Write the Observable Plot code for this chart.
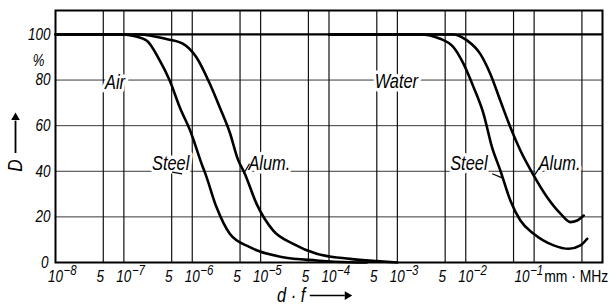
<!DOCTYPE html>
<html><head><meta charset="utf-8">
<script src="https://cdn.jsdelivr.net/npm/d3@7"></script>
<script src="https://cdn.jsdelivr.net/npm/@observablehq/plot@0.6"></script>
<style>body{margin:0;background:#fff;} svg{display:block;}</style>
</head><body><div id="chart"></div>
<script>
// ---- data (d·f in mm·MHz, D in %) ----
const airSteelX = [1e-8, 1e-7, 1.12e-7, 2.13e-7, 3.34e-7, 4.68e-7, 6.56e-7, 9.31e-7, 1.43e-6, 1.54e-6, 2.26e-6, 3.54e-6, 6.95e-6, 2.12e-5, 6.61e-5, 2.03e-4, 3.55e-4];
const airSteelD = [100, 100, 99.8, 97.4, 88.6, 79.8, 68.1, 57.9, 41.8, 39.3, 24.3, 12.6, 6.7, 2.3, 0.9, 0.1, 0];
const airAlumX = [1e-8, 1.7e-7, 4.19e-7, 7.26e-7, 1.15e-6, 1.8e-6, 2.53e-6, 3.54e-6, 4.68e-6, 5.75e-6, 8.73e-6, 1.53e-5, 3.0e-5, 6.61e-5, 2.03e-4, 5.0e-4, 1e-3];
const airAlumD = [100, 100, 98, 96, 90, 78.5, 68, 57, 45, 39.6, 25.7, 14, 8.2, 3.8, 1.6, 0.6, 0];
const waterSteelX = [1e-4, 2.15e-3, 4.23e-3, 6.62e-3, 9.29e-3, 1.3e-2, 1.82e-2, 2.42e-2, 3.2e-2, 4.49e-2, 6.3e-2, 9.84e-2, 1.93e-1, 3.21e-1, 4.76e-1, 5.97e-1];
const waterSteelD = [100, 100, 98.1, 94.4, 87.1, 76.9, 65.2, 50.6, 40.4, 27.2, 18.4, 12.6, 7.5, 6.0, 7.5, 10.4];
const waterAlumX = [1e-4, 6.56e-3, 1.04e-2, 1.63e-2, 2.29e-2, 3.2e-2, 4.49e-2, 6.3e-2, 9.84e-2, 1.55e-1, 2.43e-1, 3.4e-1, 4.26e-1, 5.32e-1];
const waterAlumD = [100, 100, 97.4, 91.5, 82.7, 71, 59.3, 49.1, 38.2, 28.6, 21.4, 17.7, 18.4, 20.6];

const xPowerTicks = [1e-8, 1e-7, 1e-6, 1e-5, 1e-4, 1e-3, 1e-2];
const xPowerExps = ["−8", "−7", "−6", "−5", "−4", "−3", "−2"];
const xLastTick = [1e-1];
const xLastExp = ["−1"];
const xFiveTicks = [5e-8, 5e-7, 5e-6, 5e-5, 5e-4, 5e-3];
const xGrid = [5e-8, 1e-7, 5e-7, 1e-6, 5e-6, 1e-5, 5e-5, 1e-4, 5e-4, 1e-3, 5e-3, 1e-2, 5e-2, 1e-1, 5e-1];
const yTicks = [20, 40, 60, 80, 100];
const yZero = [0];
const yGrid = [20, 40, 60, 80];
const unitLabel = "mm · MHz";

const curveLabels = [
  {t: "Air", x: 7.43e-8, d: 78.7},
  {t: "Water", x: 9.66e-4, d: 79.4},
  {t: "Steel", x: 4.83e-7, d: 43.2},
  {t: "Alum.", x: 1.34e-5, d: 43.4},
  {t: "Steel", x: 1.11e-2, d: 43.2},
  {t: "Alum.", x: 2.36e-1, d: 43.2}
];
const leaders = [
  {x1: 5.08e-7, y1: 39.6, x2: 7.11e-7, y2: 38.9},
  {x1: 6.87e-6, y1: 43.3, x2: 5.62e-6, y2: 38.9},
  {x1: 2.44e-2, y1: 38.9, x2: 3.41e-2, y2: 37.1},
  {x1: 1.21e-1, y1: 41.8, x2: 1.01e-1, y2: 38.2}
];

function series(xs, ds, name) { return xs.map((x, i) => ({x, d: ds[i], name})); }
const curves = [
  ...series(airSteelX, airSteelD, "air-steel"),
  ...series(airAlumX, airAlumD, "air-alum"),
  ...series(waterSteelX, waterSteelD, "water-steel"),
  ...series(waterAlumX, waterAlumD, "water-alum")
];

const FONT = '"Liberation Sans",Arial,sans-serif';
const T = {fill: "black", fontStyle: "italic"};

const chart = Plot.plot({
  width: 610, height: 308,
  marginLeft: 55, marginRight: 8, marginTop: 10, marginBottom: 46,
  style: {fontFamily: FONT, background: "#fff", color: "#000"},
  x: {type: "log", domain: [1e-8, 1], axis: null},
  y: {domain: [0, 110.5], axis: null},
  marks: [
    Plot.ruleY(yGrid, {stroke: "#222", strokeWidth: 0.9}),
    Plot.ruleX(xGrid, {stroke: "#111", strokeWidth: 1.2}),
    Plot.ruleY([100], {stroke: "#000", strokeWidth: 2.2}),
    Plot.frame({stroke: "#000", strokeWidth: 2}),
    Plot.text(curveLabels, {...T, x: "x", y: "d", text: "t", fontSize: 20,
      stroke: "white", strokeWidth: 7, paintOrder: "stroke", lineAnchor: "middle"}),
    Plot.link(leaders, {x1: "x1", y1: "y1", x2: "x2", y2: "y2", stroke: "black", strokeWidth: 1.2}),
    Plot.line(curves, {x: "x", y: "d", z: "name", stroke: "black", strokeWidth: 2.6, curve: "monotone-x"}),
    // y tick labels
    Plot.text(yTicks, {...T, y: d => d, frameAnchor: "left", dx: -5, text: d => String(d),
      textAnchor: "end", lineAnchor: "middle", fontSize: 16.5}),
    Plot.text(yZero, {...T, y: d => d, frameAnchor: "left", dx: -7, text: d => String(d),
      textAnchor: "end", lineAnchor: "bottom", dy: 5, fontSize: 16.5}),
    Plot.text(["%"], {...T, y: () => 88.6, frameAnchor: "left", dx: -17, text: d => d,
      textAnchor: "middle", lineAnchor: "middle", fontSize: 16}),
    // x tick labels
    Plot.text(xPowerTicks, {...T, x: d => d, frameAnchor: "bottom", dy: 19, text: () => "10",
      textAnchor: "middle", lineAnchor: "bottom", fontSize: 16.5}),
    Plot.text(xPowerTicks, {...T, x: d => d, frameAnchor: "bottom", dy: 12.5, dx: 8, text: (d, i) => xPowerExps[i],
      textAnchor: "start", lineAnchor: "bottom", fontSize: 14}),
    Plot.text(xLastTick, {...T, x: d => d, frameAnchor: "bottom", dy: 19, dx: -12, text: () => "10",
      textAnchor: "middle", lineAnchor: "bottom", fontSize: 16.5}),
    Plot.text(xLastTick, {...T, x: d => d, frameAnchor: "bottom", dy: 12.5, dx: -4, text: (d, i) => xLastExp[i],
      textAnchor: "start", lineAnchor: "bottom", fontSize: 14}),
    Plot.text(xFiveTicks, {...T, x: d => d, frameAnchor: "bottom", dy: 19, dx: -3, text: () => "5",
      textAnchor: "middle", lineAnchor: "bottom", fontSize: 16.5}),
    Plot.text([unitLabel], {x: () => 1e-1, frameAnchor: "bottom", dy: 19, dx: 10, text: d => d,
      textAnchor: "start", lineAnchor: "bottom", fontSize: 17, fill: "black"}),
    // axis titles
    Plot.text(["d · f"], {...T, x: () => 2.8e-5, y: () => -17.2, text: d => d, textAnchor: "middle",
      lineAnchor: "bottom", fontSize: 20}),
    Plot.ruleY([-14.5], {x1: 5.32e-5, x2: 1.73e-4, stroke: "black", strokeWidth: 1.6}),
    Plot.dot([-14.5], {x: () => 1.85e-4, y: d => d, symbol: "triangle", r: 3.2, rotate: 90, fill: "black", stroke: null}),
    Plot.text(["D"], {...T, y: () => 42.5, frameAnchor: "left", dx: -40, text: d => d, rotate: -90,
      textAnchor: "middle", lineAnchor: "middle", fontSize: 21}),
    Plot.ruleX([1e-8], {y1: 47.8, y2: 62, dx: -40, stroke: "black", strokeWidth: 1.8}),
    Plot.dot([1e-8], {x: d => d, y: () => 63.6, dx: -40, symbol: "triangle", r: 3.2, fill: "black", stroke: null})
  ]
});

// narrow the lettering (the original uses a condensed DIN-style face)
chart.querySelectorAll("text").forEach(t => {
  const tr = t.getAttribute("transform");
  if (tr) {
    t.setAttribute("transform", tr + " scale(0.82,1)");
  } else {
    const x = +(t.getAttribute("x") || 0), y = +(t.getAttribute("y") || 0);
    t.removeAttribute("x"); t.removeAttribute("y");
    t.setAttribute("transform", `translate(${x},${y}) scale(0.82,1)`);
  }
});
document.getElementById("chart").appendChild(chart);
</script>
</body></html>
